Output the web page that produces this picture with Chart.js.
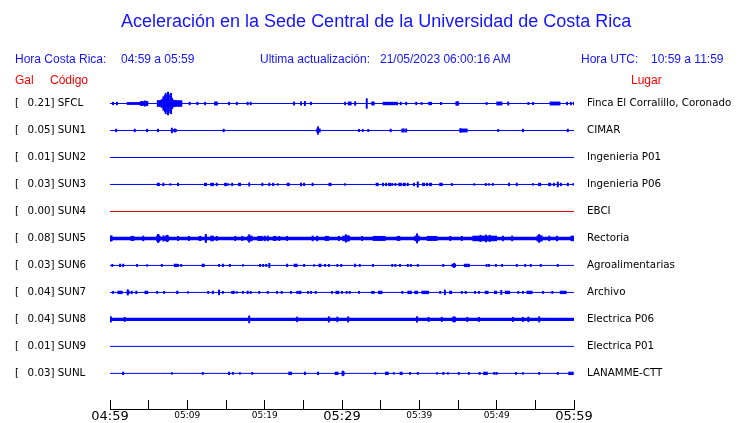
<!DOCTYPE html>
<html lang="es">
<head>
    <meta charset="UTF-8">
    <title>Aceleración Sede Central UCR</title>
    <script src="https://cdn.jsdelivr.net/npm/chart.js@4.4.0/dist/chart.umd.min.js"></script>
    <style>
        body { margin: 0; background: #fff; }
        #wrap { position: relative; width: 740px; height: 423px; overflow: hidden; }
        #chart { position: absolute; left: 0; top: 0; }
        .t { position: absolute; white-space: pre; line-height: 1; font-family: "Liberation Sans", Arial, sans-serif; font-size: 12px; color: #1414ff; }
        .red { color: #ff0000; }
        .title { font-size: 18px; }
    </style>
</head>
<body>
<div id="wrap">
    <canvas id="chart" width="740" height="423"></canvas>
    <div class="t title" style="left:121px; top:12px;">Aceleración en la Sede Central de la Universidad de Costa Rica</div>
    <div class="t" style="left:15px; top:53px;">Hora Costa Rica:</div>
    <div class="t" style="left:121px; top:53px;">04:59 a 05:59</div>
    <div class="t" style="left:260px; top:53px;">Ultima actualización:</div>
    <div class="t" style="left:380px; top:53px;">21/05/2023 06:00:16 AM</div>
    <div class="t" style="left:581px; top:53px;">Hora UTC:</div>
    <div class="t" style="left:651px; top:53px;">10:59 a 11:59</div>
    <div class="t red" style="left:15px; top:74px;">Gal</div>
    <div class="t red" style="left:50px; top:74px;">Código</div>
    <div class="t red" style="left:631px; top:74px;">Lugar</div>
</div>

<script>
    // stations (top to bottom)
    const CODES = ['SFCL', 'SUN1', 'SUN2', 'SUN3', 'SUN4', 'SUN5', 'SUN6', 'SUN7', 'SUN8', 'SUN9', 'SUNL'];
    const GAL = [0.21, 0.05, 0.01, 0.03, 0.00, 0.08, 0.03, 0.04, 0.04, 0.01, 0.03];
    const PLACES = ['Finca El Corralillo, Coronado', 'CIMAR', 'Ingenieria P01', 'Ingenieria P06', 'EBCI',
        'Rectoria', 'Agroalimentarias', 'Archivo', 'Electrica P06', 'Electrica P01', 'LANAMME-CTT'];

    // x axis: minutes after 04:59, a label every 10 min
    const TICK_LABELS = ['04:59', '05:09', '05:19', '05:29', '05:39', '05:49', '05:59'];

    // spikes: [minute, half amplitude]   (100 = distance between two traces)
    const SPIKES_SFCL = [[0.4,5],[0.9,5],[4.1,8],[4.5,10],[4.8,8],[6.5,10],[6.7,15],[6.9,25],[7.1,30],[7.2,38],[7.4,30],
        [7.5,42],[7.6,35],[7.8,28],[7.9,38],[8.0,20],[8.1,15],[8.4,10],[8.8,8],[9.2,6],[10.3,5],[11.3,5],[12.3,5],
        [15.4,5],[16.4,5],[17.8,5],[18.2,5],[23.8,6],[24.7,6],[25.2,8],[26.0,5],[30.4,5],[31.7,7],[33.2,18],[33.9,6],
        [34.1,6],[37.6,5],[38.3,5],[39.6,5],[40.3,4],[42.8,4],[44.9,7],[48.7,4],[51.5,6],[54.1,4],[54.7,4],[59.1,5],
        [59.6,5],[60,5]];
    const SPIKES_SUN1 = [[0.8,5],[3.2,5],[4.8,5],[6.2,5],[8.0,9],[8.4,6],[14.7,5],[26.9,14],[32.2,4],[32.7,4],[33.4,4],
        [36.3,5],[37.8,6],[38.0,6],[38.3,6],[45.3,7],[50.2,4],[53.4,5],[59.2,5]];
    const SPIKES_SUN2 = [];
    const SPIKES_SUN3 = [[6.9,5],[7.8,3],[8.8,5],[13.8,5],[15.3,3],[15.8,5],[18.0,6],[19.7,5],[20.6,5],[21.1,5],[21.7,3],
        [24.7,5],[25.1,5],[26.2,5],[30.4,3],[35.3,5],[35.7,5],[36.5,4],[36.9,4],[37.4,5],[37.6,5],[38.5,5],[39.3,5],
        [39.8,10],[41.0,5],[42.7,5],[42.9,5],[44.2,4],[47.1,3],[48.6,4],[49.0,3],[49.5,4],[51.6,5],[52.6,5],[54.7,3],
        [57.4,5],[57.9,9],[58.3,5],[59.2,5],[59.9,3]];
    const SPIKES_SUN4 = [];
    const SPIKES_SUN5 = [[0.1,10],[4.3,9],[6.2,15],[6.3,13],[6.9,10],[7.4,12],[8.8,8],[10.2,8],[12.4,15],[13.1,9],
        [13.3,9],[13.8,8],[16.2,8],[17.1,8],[18.0,14],[20.0,9],[20.4,9],[21.9,8],[22.9,8],[26.2,9],[26.8,9],
        [29.6,8],[30.5,14],[30.8,10],[32.6,8],[39.7,17],[44.0,8],[45.5,8],[47.9,12],[48.6,13],[49.1,12],[50.8,9],
        [52.0,9],[55.5,15],[56.8,9],[57.8,9]];
    const SPIKES_SUN6 = [[0.3,4],[1.3,5],[1.7,5],[3.5,4],[4.8,3],[6.7,4],[8.8,4],[9.2,4],[14.1,4],[14.6,5],[15.5,4],
        [17.2,3],[19.4,4],[19.8,4],[20.2,4],[20.6,8],[22.9,5],[25.1,4],[26.4,3],[27.8,4],[28.3,4],[29.4,4],[29.9,4],
        [31.7,5],[32.3,4],[34.0,4],[36.5,4],[36.9,4],[37.5,4],[38.5,4],[38.9,4],[39.8,4],[43.1,4],[44.5,8],[48.7,4],
        [49.0,4],[49.9,4],[50.7,4],[52.6,4],[53.7,4],[54.4,4],[55.7,4],[57.9,4]];
    const SPIKES_SUN7 = [[0.4,4],[2.3,10],[2.8,5],[3.4,5],[6.1,4],[7.0,4],[10.1,3],[12.7,4],[13.3,5],[14.1,9],[14.6,4],
        [15.8,4],[16.0,5],[16.4,3],[17.2,4],[17.8,5],[18.2,4],[19.3,4],[20.4,4],[21.6,4],[22.2,4],[23.4,4],[24.2,4],
        [25.6,4],[26.0,4],[26.6,4],[28.7,4],[30.0,4],[30.6,4],[31.0,4],[32.2,4],[33.9,4],[34.1,4],[37.8,4],[42.7,4],
        [43.3,9],[45.5,4],[46.0,4],[47.2,4],[47.7,4],[50.6,8],[52.8,4],[53.4,4],[56.0,4],[57.2,4]];
    const SPIKES_SUN8 = [[0.1,10],[1.9,8],[18.0,13],[24.2,9],[28.3,10],[29.4,9],[30.8,10],[39.7,10],[41.2,8],[42.9,8],
        [44.4,10],[44.6,9],[46.2,8],[47.7,8],[52.1,8],[53.4,8],[54.1,9],[55.5,10]];
    const SPIKES_SUN9 = [];
    const SPIKES_SUNL = [[1.7,5],[8.0,3],[12.0,4],[15.4,5],[15.9,4],[16.8,3],[18.4,4],[25.2,5],[26.9,5],[30.1,9],[34.3,4],
        [36.7,3],[38.8,4],[39.8,4],[42.3,3],[43.1,4],[43.7,3],[45.1,4],[46.4,4],[47.8,4],[49.7,4],[50.0,4],[52.5,4],
        [53.4,3],[55.5,4],[57.9,4]];

    // dense stretches: [from minute, to minute, half amplitude]
    const BLOCKS_SFCL = [[2.2,3.9,4],[3.9,4.9,7],[6.1,9.3,11],[13.5,13.9,6],[30.8,31.2,6],[35.3,37.2,5],[41.2,41.6,5],
        [44.7,45.1,6],[50.0,50.7,6],[56.9,58.2,6]];
    const BLOCKS_SUN1 = [[8.2,8.6,4],[26.7,27.2,6],[45.3,46.2,6]];
    const BLOCKS_SUN2 = [];
    const BLOCKS_SUN3 = [[6.1,6.4,5],[12.2,12.5,5],[13.0,13.4,5],[14.8,15.1,5],[16.6,16.9,5],[22.9,23.2,5],[28.3,28.6,5],
        [34.4,34.7,5],[36.0,36.3,5],[37.9,38.2,5],[40.4,40.7,5],[41.3,41.6,5],[55.4,55.7,5],[56.7,57.0,5]];
    const BLOCKS_SUN4 = [];
    const BLOCKS_SUN5 = [[0.0,0.3,9],[2.7,3.1,8],[6.0,6.5,9],[7.1,7.6,9],[11.5,11.8,8],[12.3,12.5,10],[17.8,18.4,9],
        [19.1,19.7,8],[21.1,21.5,8],[27.8,28.3,8],[30.1,31.0,9],[34.0,35.6,8],[37.1,37.5,8],[39.4,40.0,9],
        [41.0,42.3,8],[46.9,50.0,9],[55.2,55.9,10],[59.6,60,9]];
    const BLOCKS_SUN6 = [[8.3,8.7,5],[11.9,12.2,5],[23.8,24.2,5],[27.0,27.3,5],[44.2,44.7,5],[45.8,46.5,5]];
    const BLOCKS_SUN7 = [[1.0,1.6,5],[2.2,2.5,5],[4.5,4.9,5],[8.6,8.8,5],[24.4,24.7,5],[29.2,29.6,5],[34.7,35.2,5],
        [38.5,39.0,5],[39.4,39.8,5],[40.3,41.2,5],[43.9,44.2,5],[48.5,48.9,5],[49.7,50.0,5],[51.1,51.7,5],[53.9,54.6,5],
        [58.2,59.0,5]];
    const BLOCKS_SUN8 = [];
    const BLOCKS_SUN9 = [];
    const BLOCKS_SUNL = [[23.1,23.5,5],[29.1,29.5,5],[30.0,30.3,6],[35.6,36.0,5],[37.5,37.8,5],[48.3,48.8,5],[59.3,59.9,5]];

    const SPIKES = [SPIKES_SFCL, SPIKES_SUN1, SPIKES_SUN2, SPIKES_SUN3, SPIKES_SUN4, SPIKES_SUN5,
        SPIKES_SUN6, SPIKES_SUN7, SPIKES_SUN8, SPIKES_SUN9, SPIKES_SUNL];
    const BLOCKS = [BLOCKS_SFCL, BLOCKS_SUN1, BLOCKS_SUN2, BLOCKS_SUN3, BLOCKS_SUN4, BLOCKS_SUN5,
        BLOCKS_SUN6, BLOCKS_SUN7, BLOCKS_SUN8, BLOCKS_SUN9, BLOCKS_SUNL];

    // styles
    const BLUE = '#0000ff';
    const TRACE_COLOR = CODES.map(c => c === 'SUN4' ? '#dd0000' : BLUE);
    const TRACE_WIDTH = [1, 1, 1, 1, 1, 3.5, 1, 1, 3.3, 1, 1];
    const ROW = 100;
    const Y_MIN = -50, Y_MAX = 1132;
    const AREA_TOP = 90, AREA_BOTTOM = 409;
    const PX_PER_UNIT = (AREA_BOTTOM - AREA_TOP) / (Y_MAX - Y_MIN);
    const NB = '\u00a0';

    const datasets = [];

    // base lines
    CODES.forEach((c, i) => {
        datasets.push({
            type: 'line',
            data: [{x: 0, y: i * ROW}, {x: 60, y: i * ROW}],
            borderColor: TRACE_COLOR[i],
            borderWidth: TRACE_WIDTH[i],
            pointRadius: 0
        });
    });

    // spikes as thin floating bars
    var spikeData = [];
    SPIKES.forEach((list, i) => list.forEach(s => spikeData.push({x: s[0], y: [i * ROW - s[1], i * ROW + s[1]]})));
    datasets.push({
        type: 'bar',
        data: spikeData,
        backgroundColor: BLUE,
        barThickness: 1.3,
        grouped: false
    });

    // dense stretches as horizontal floating bars, one dataset per height
    var byAmp = {};
    BLOCKS.forEach((list, i) => list.forEach(b => {
        (byAmp[b[2]] = byAmp[b[2]] || []).push({y: i * ROW, x: [b[0], b[1]]});
    }));
    Object.keys(byAmp).forEach(a => {
        datasets.push({
            type: 'bar',
            indexAxis: 'y',
            data: byAmp[a],
            backgroundColor: BLUE,
            barThickness: 2 * a * PX_PER_UNIT,
            grouped: false
        });
    });

    function rowTicks(scale) {
        scale.ticks = CODES.map((c, i) => ({value: i * ROW}));
    }

    function galLabel(i) {
        // "[  0.21] SFCL" with fixed-width spacing
        return '[' + NB + NB + '\u2009' + GAL[i].toFixed(2) + '] ' + CODES[i];
    }

    new Chart(document.getElementById('chart'), {
        type: 'line',
        data: {datasets: datasets},
        options: {
            responsive: false,
            animation: false,
            layout: {padding: {left: 15, top: AREA_TOP, right: 0, bottom: 0}},
            plugins: {legend: {display: false}, tooltip: {enabled: false}},
            scales: {
                x: {
                    type: 'linear',
                    position: 'bottom',
                    min: 0,
                    max: 60,
                    offset: false,
                    grid: {drawOnChartArea: false, tickLength: -9, color: '#000', offset: false},
                    border: {color: '#000', width: 1},
                    ticks: {
                        stepSize: 5,
                        autoSkip: false,
                        maxRotation: 0,
                        padding: 9,
                        color: '#000',
                        callback: v => (v % 10 === 0 ? TICK_LABELS[v / 10] : ''),
                        font: ctx => (ctx.tick && ctx.tick.value % 30 === 0)
                            ? {family: 'DejaVu Sans', size: 13, lineHeight: 1.2}
                            : {family: 'DejaVu Sans', size: 9, lineHeight: 1.4}
                    },
                    afterFit: s => { s.height = 423 - AREA_BOTTOM; s.paddingLeft = 0; s.paddingRight = 0; }
                },
                y: {
                    type: 'linear',
                    position: 'left',
                    reverse: true,
                    min: Y_MIN,
                    max: Y_MAX,
                    offset: false,
                    grid: {display: false, drawTicks: false},
                    border: {display: false},
                    afterBuildTicks: rowTicks,
                    ticks: {
                        autoSkip: false,
                        crossAlign: 'far',
                        padding: 0,
                        color: '#000',
                        font: {family: 'DejaVu Sans', size: 10.3},
                        callback: (v, i) => galLabel(i)
                    },
                    afterFit: s => { s.width = 110 - 15; s.paddingTop = 0; s.paddingBottom = 0; }
                },
                y2: {
                    type: 'linear',
                    position: 'right',
                    reverse: true,
                    min: Y_MIN,
                    max: Y_MAX,
                    grid: {display: false, drawTicks: false},
                    border: {display: false},
                    afterBuildTicks: rowTicks,
                    ticks: {
                        autoSkip: false,
                        padding: 13,
                        color: '#000',
                        font: {family: 'DejaVu Sans', size: 10.3},
                        callback: (v, i) => PLACES[i]
                    },
                    afterFit: s => { s.width = 740 - 574; s.paddingTop = 0; s.paddingBottom = 0; }
                }
            }
        }
    });
</script>
</body>
</html>
